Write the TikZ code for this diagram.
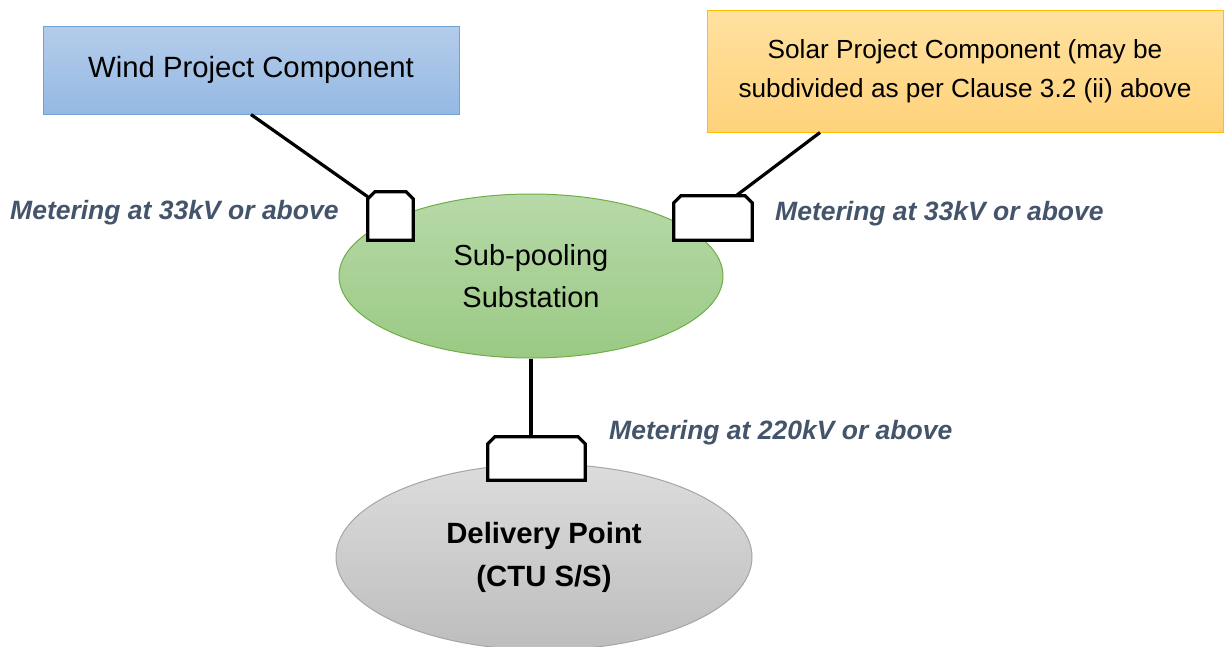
\documentclass[tikz,border=0pt]{standalone}
\usepackage{fontspec}
\setmainfont{Liberation Sans}
\usetikzlibrary{shapes.geometric}
\definecolor{labc}{HTML}{44546A}
\definecolor{windb}{HTML}{6FA0D8}
\definecolor{windt}{HTML}{B5CCEA}
\definecolor{windbot}{HTML}{94B9E3}
\definecolor{solb}{HTML}{FFC000}
\definecolor{solt}{HTML}{FFE1A0}
\definecolor{solbot}{HTML}{FFD27A}
\definecolor{grb}{HTML}{70AD47}
\definecolor{grt}{HTML}{B7D9A8}
\definecolor{grbot}{HTML}{9ACA84}
\definecolor{gyb}{HTML}{A5A5A5}
\definecolor{gyt}{HTML}{DCDCDC}
\definecolor{gybot}{HTML}{BDBDBD}
\tikzset{
  box/.style={draw, line width=1pt, inner sep=0pt, align=center},
  meter/.style={fill=white, inner sep=0pt},
  meterline/.style={line width=3.2pt, line join=miter},
  conn/.style={line width=3.2pt},
  lab/.style={font=\fontsize{26.5}{30}\selectfont\bfseries\itshape, text=labc, anchor=west, inner sep=0pt},
}
\newcommand{\chamf}[1]{\draw[meterline] (#1.south west) -- ([yshift=-7pt]#1.north west) -- ([xshift=7pt]#1.north west) -- ([xshift=-7pt]#1.north east) -- ([yshift=-7pt]#1.north east) -- (#1.south east) -- cycle;}
\begin{document}
\begin{tikzpicture}[x=1pt,y=-1pt]
\useasboundingbox (0,0) rectangle (1230,646);
\node[box, draw=windb, top color=windt, bottom color=windbot, minimum width=416pt, minimum height=88pt, font=\fontsize{29.3}{36}\selectfont] (wind) at (251,70) {Wind Project Component};
\node[box, draw=solb, top color=solt, bottom color=solbot, minimum width=516pt, minimum height=122pt, font=\fontsize{26.2}{39}\selectfont] (solar) at (965,71) {Solar Project Component (may be\\subdivided as per Clause 3.2 (ii) above};
\node[ellipse, draw=grb, line width=1pt, top color=grt, bottom color=grbot, minimum width=384pt, minimum height=164pt, inner sep=0pt, align=center, font=\fontsize{29}{42}\selectfont] (green) at (531,276) {Sub-pooling\\Substation};
\node[ellipse, draw=gyb, line width=1pt, top color=gyt, bottom color=gybot, minimum width=416pt, minimum height=186pt, inner sep=0pt, align=center, font=\fontsize{29.3}{43}\selectfont\bfseries] (deliv) at (544,557) {Delivery Point\\(CTU S/S)};
\coordinate (wa) at (wind.south);
\coordinate (sa) at ([xshift=-145pt]solar.south);
\node[meter, minimum width=45pt, minimum height=48pt] (m1) at (390.5,216) {};
\node[meter, minimum width=78pt, minimum height=44pt] (m2) at (713,218) {};
\node[meter, minimum width=97pt, minimum height=43pt] (m3) at (536.5,458.5) {};
\draw[conn] (wa) -- ([yshift=-5pt]m1.north west);
\draw[conn] (sa) -- ([xshift=23pt]m2.north);
\draw[conn] (green.south) -- (green.south |- m3.north);
\chamf{m1}
\chamf{m2}
\chamf{m3}
\node[lab] (l1) at (10,213) {Metering at 33kV or above};
\node[lab] (l2) at (775,214) {Metering at 33kV or above};
\node[lab] (l3) at (609,433) {Metering at 220kV or above};
\end{tikzpicture}
\end{document}
